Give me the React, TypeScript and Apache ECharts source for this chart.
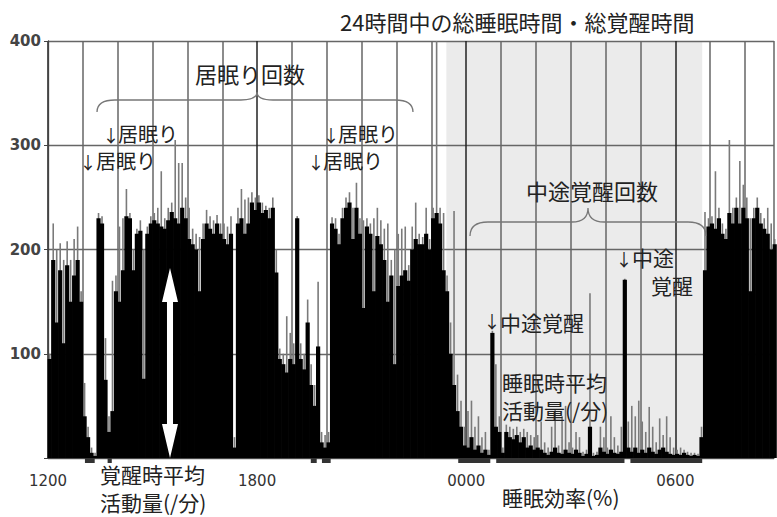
import React, { useEffect, useRef } from 'react';
import * as echarts from 'echarts';

// 6-minute epochs starting at 12:00 (hours counted from noon)
const EPOCH_HOURS = 0.1;

// mean activity per epoch (black bars), one row per hour from 12:00
const activity: number[] = [
  95, 190, 130, 180, 110, 185, 150, 175, 190, 150,
  40, 20, 5, 2, 230, 225, 75, 25, 45, 160,
  150, 180, 232, 230, 180, 215, 218, 76, 215, 225,
  228, 225, 222, 220, 228, 236, 230, 225, 240, 230,
  210, 205, 200, 160, 210, 225, 220, 215, 225, 215,
  210, 205, 215, 10, 225, 230, 215, 225, 245, 238,
  245, 235, 238, 230, 240, 178, 95, 90, 82, 95,
  90, 230, 95, 85, 130, 70, 50, 107, 15, 10,
  15, 225, 220, 205, 230, 240, 245, 210, 240, 215,
  144, 222, 215, 160, 213, 205, 190, 150, 175, 90,
  165, 175, 180, 170, 200, 210, 205, 205, 215, 200,
  230, 235, 225, 180, 160, 100, 70, 45, 30, 12,
  10, 20, 8, 12, 5, 8, 3, 120, 30, 25,
  5, 25, 20, 18, 22, 15, 20, 10, 12, 8,
  10, 8, 5, 3, 6, 10, 5, 4, 8, 5,
  4, 8, 5, 2, 4, 30, 2, 3, 10, 6,
  4, 8, 5, 4, 6, 171, 10, 6, 10, 5,
  8, 5, 10, 6, 4, 8, 10, 6, 4, 3,
  4, 3, 5, 3, 2, 3, 2, 20, 180, 222,
  225, 220, 230, 215, 210, 235, 225, 240, 225, 240,
  230, 160, 230, 240, 225, 220, 215, 200, 205,
];

// peak activity per epoch (grey spikes)
const peaks: number[] = [
  100, 225, 200, 206, 190, 208, 190, 210, 222, 160,
  72, 30, 10, 5, 235, 232, 115, 40, 170, 175,
  222, 230, 258, 235, 200, 220, 228, 200, 222, 232,
  235, 240, 275, 230, 240, 245, 305, 283, 283, 250,
  240, 220, 215, 212, 225, 238, 232, 228, 233, 225,
  225, 222, 232, 20, 240, 258, 248, 250, 255, 250,
  252, 245, 242, 240, 250, 200, 105, 100, 136, 120,
  110, 232, 110, 100, 152, 90, 70, 169, 25, 22,
  25, 231, 230, 215, 240, 250, 255, 240, 264, 230,
  228, 230, 225, 230, 240, 228, 220, 225, 190, 200,
  215, 220, 222, 185, 222, 245, 215, 212, 240, 210,
  240, 400, 240, 235, 175, 130, 237, 80, 55, 30,
  45, 55, 30, 40, 20, 25, 8, 122, 90, 40,
  10, 32, 30, 28, 30, 25, 28, 25, 22, 20,
  22, 35, 15, 10, 30, 46, 12, 40, 50, 15,
  10, 25, 20, 6, 8, 158, 5, 6, 30, 20,
  10, 40, 20, 12, 30, 172, 35, 50, 40, 55,
  35, 25, 49, 30, 15, 38, 22, 40, 20, 10,
  8, 10, 8, 6, 5, 5, 4, 30, 236, 230,
  232, 275, 240, 225, 220, 305, 240, 250, 285, 262,
  250, 230, 240, 250, 235, 230, 240, 225, 210,
];

// bed period (hours from noon): 23:26 -> 06:46
const sleepPeriod: number[] = [11.43, 18.77];
// scored sleep segments drawn under the axis (hours from noon)
const sleepMarks: number[][] = [
  [1.06, 1.34], [1.71, 1.83], [7.54, 7.71], [7.86, 8.11],
  [11.77, 12.69], [12.86, 16.54], [16.71, 18.77],
];

const xTickHours: number[] = [0, 6, 12, 18];
const xTickLabels: string[] = ['1200', '1800', '0000', '0600'];
const yTickValues: number[] = [100, 200, 300, 400];

const X_MAX = 20.83;
const Y_MAX = 400;

const CJK = '"Noto Sans CJK JP", "Noto Sans CJK SC", sans-serif';

function bracePath(x1: number, x2: number, xm: number, yTip: number, yMid: number, yEnd: number) {
  return `M${x1},${yEnd} Q${x1},${yMid} ${x1 + 18},${yMid} L${xm - 16},${yMid} Q${xm},${yMid} ${xm},${yTip} Q${xm},${yMid} ${xm + 16},${yMid} L${x2 - 18},${yMid} Q${x2},${yMid} ${x2},${yEnd}`;
}

echarts.graphic.registerShape('braceDoze', echarts.graphic.extendPath(bracePath(97, 413, 257, 92, 100, 112), {}));
echarts.graphic.registerShape('braceWake', echarts.graphic.extendPath(bracePath(470, 706, 588, 208, 222, 236), {}));

type Label = { text: string; x: number; y: number; size: number; align?: string };

const labels: Label[] = [
  { text: '24時間中の総睡眠時間・総覚醒時間', x: 340, y: 21, size: 22 },
  { text: '居眠り回数', x: 195, y: 73, size: 22 },
  { text: '↓', x: 111, y: 134, size: 17, align: 'center' },
  { text: '居眠り', x: 118, y: 133, size: 20 },
  { text: '↓', x: 88, y: 161, size: 17, align: 'center' },
  { text: '居眠り', x: 96, y: 160, size: 20 },
  { text: '↓', x: 331, y: 134, size: 17, align: 'center' },
  { text: '居眠り', x: 338, y: 133, size: 20 },
  { text: '↓', x: 316, y: 161, size: 17, align: 'center' },
  { text: '居眠り', x: 323, y: 160, size: 20 },
  { text: '中途覚醒回数', x: 526, y: 190, size: 22 },
  { text: '↓', x: 492, y: 320, size: 17, align: 'center' },
  { text: '中途覚醒', x: 500, y: 322, size: 21 },
  { text: '↓', x: 624, y: 258, size: 17, align: 'center' },
  { text: '中途', x: 632, y: 257, size: 21 },
  { text: '覚醒', x: 651, y: 285, size: 21 },
  { text: '睡眠時平均', x: 502, y: 382, size: 21 },
  { text: '活動量(/分)', x: 502, y: 410, size: 21 },
  { text: '覚醒時平均', x: 100, y: 474, size: 21 },
  { text: '活動量(/分)', x: 100, y: 502, size: 21 },
  { text: '睡眠効率(%)', x: 502, y: 497, size: 21 },
];

export default function App() {
  const ref = useRef<HTMLDivElement>(null);

  useEffect(() => {
    if (!ref.current) return;
    const chart = echarts.init(ref.current, undefined, { renderer: 'svg' });

    const epochX = (i: number) => (i + 0.5) * EPOCH_HOURS;

    const graphics: any[] = labels.map((l) => ({
      type: 'text',
      x: l.x,
      y: l.y,
      z: 100,
      style: {
        text: l.text,
        fill: '#222',
        fontSize: l.size,
        fontFamily: CJK,
        align: l.align || 'left',
        textAlign: l.align || 'left',
        verticalAlign: 'middle',
        textVerticalAlign: 'middle',
      },
    }));
    graphics.push(
      { type: 'braceDoze', z: 100, style: { fill: 'none', stroke: '#777', lineWidth: 1.3 } },
      { type: 'braceWake', z: 100, style: { fill: 'none', stroke: '#777', lineWidth: 1.3 } },
      {
        type: 'polygon',
        z: 100,
        shape: {
          points: [
            [170, 268], [178, 302], [173, 302], [173, 424], [178, 424],
            [170, 458], [162, 424], [167, 424], [167, 302], [162, 302],
          ],
        },
        style: { fill: '#fff' },
      }
    );

    chart.setOption({
      animation: false,
      backgroundColor: '#fff',
      grid: { left: 48, top: 41, right: 0, bottom: 59, containLabel: false },
      xAxis: {
        type: 'value',
        min: 0,
        max: X_MAX,
        interval: 1,
        z: 1,
        axisLine: { show: true, lineStyle: { color: '#444', width: 1 } },
        axisTick: { show: false },
        axisLabel: {
          margin: 15,
          color: '#333',
          fontSize: 15,
          fontFamily: '"DejaVu Sans", sans-serif',
          formatter: (v: number) => {
            const idx = xTickHours.findIndex((h) => Math.abs(h - v) < 1e-6);
            return idx >= 0 ? xTickLabels[idx] : '';
          },
        },
        splitLine: {
          show: true,
          lineStyle: { color: ['#222', '#666', '#666', '#666', '#666', '#666'], width: 1.5 },
        },
      },
      yAxis: {
        type: 'value',
        min: 0,
        max: Y_MAX,
        interval: 100,
        z: 1,
        axisLine: { show: true, lineStyle: { color: '#444', width: 1.3 } },
        axisTick: { show: true, length: 4, lineStyle: { color: '#444' } },
        axisLabel: {
          margin: 7,
          color: '#444',
          fontSize: 15,
          fontWeight: 'bold',
          fontFamily: '"DejaVu Sans", sans-serif',
          formatter: (v: number) => (yTickValues.includes(v) ? String(v) : ''),
        },
        splitLine: { show: true, lineStyle: { color: '#666', width: 1.3 } },
      },
      graphic: graphics,
      series: [
        {
          type: 'custom',
          name: 'bed',
          z: 0,
          silent: true,
          data: [[sleepPeriod[0], sleepPeriod[1]]],
          encode: { x: [0, 1] },
          renderItem: (_p: any, api: any) => {
            const a = api.coord([api.value(0), Y_MAX]);
            const b = api.coord([api.value(1), 0]);
            return {
              type: 'rect',
              shape: { x: a[0], y: a[1], width: b[0] - a[0], height: b[1] - a[1] },
              style: { fill: '#ebebeb' },
            };
          },
        },
        {
          type: 'custom',
          name: 'peak',
          z: 2,
          silent: true,
          data: peaks.map((v, i) => [epochX(i), v]),
          encode: { x: 0, y: 1 },
          renderItem: (_p: any, api: any) => {
            const top = api.coord([api.value(0), api.value(1)]);
            const base = api.coord([api.value(0), 0]);
            return {
              type: 'rect',
              shape: { x: top[0] - 0.8, y: top[1], width: 1.6, height: base[1] - top[1] },
              style: { fill: '#7a7a7a' },
            };
          },
        },
        {
          type: 'bar',
          name: 'activity',
          z: 3,
          silent: true,
          barWidth: 4.2,
          itemStyle: { color: '#000' },
          data: activity.map((v, i) => [epochX(i), v]),
        },
        {
          type: 'custom',
          name: 'sleep',
          z: 4,
          silent: true,
          clip: false,
          data: sleepMarks,
          encode: { x: [0, 1] },
          renderItem: (_p: any, api: any) => {
            const a = api.coord([api.value(0), 0]);
            const b = api.coord([api.value(1), 0]);
            return {
              type: 'rect',
              shape: { x: a[0], y: a[1], width: b[0] - a[0], height: 5 },
              style: { fill: '#333' },
            };
          },
        },
      ],
    });

    return () => chart.dispose();
  }, []);

  return (
    <div
      ref={ref}
      style={{ position: 'fixed', left: 0, top: 0, width: 777, height: 517, background: '#fff' }}
    />
  );
}
